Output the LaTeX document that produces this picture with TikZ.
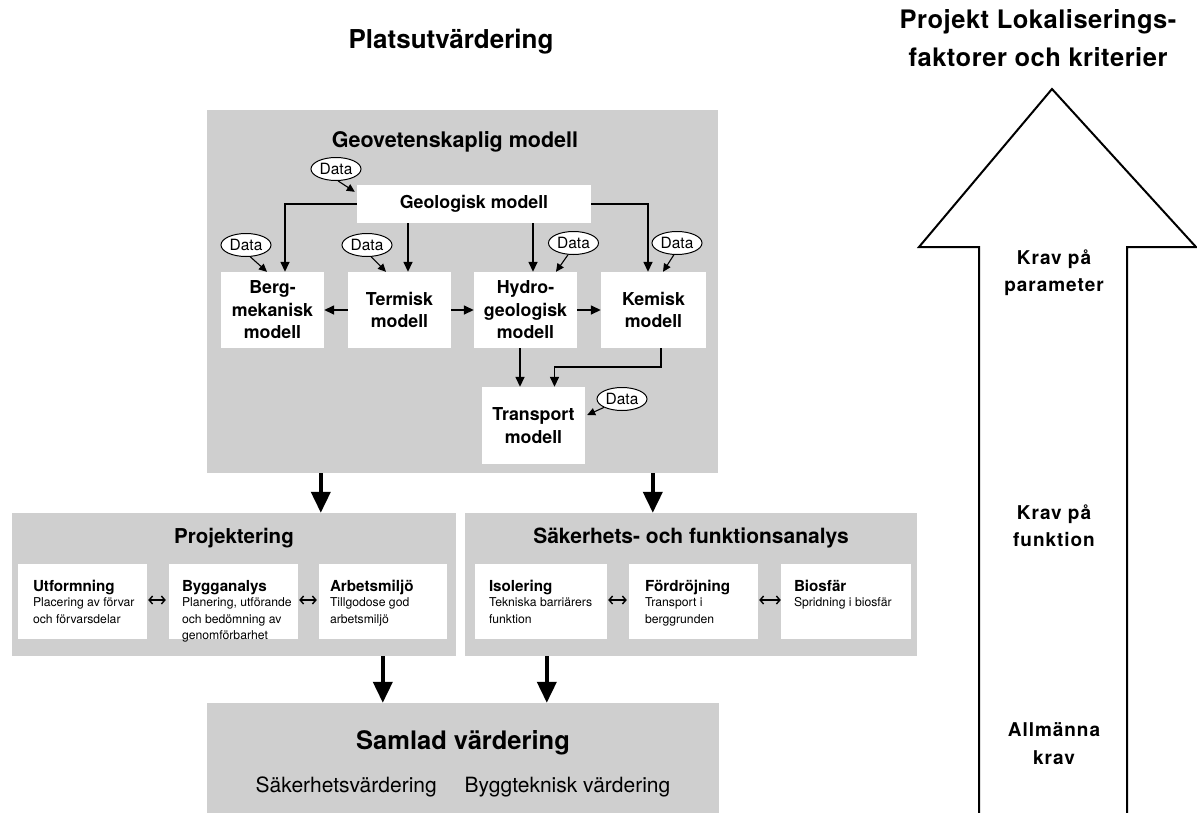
\documentclass[tikz,border=0pt]{standalone}
\usepackage{fontspec}
\setmainfont{TeX Gyre Heros}
\usetikzlibrary{arrows.meta,calc,shapes.geometric}
\definecolor{dither}{gray}{0.81}
\tikzset{
  graybox/.style={fill=dither, draw=none, inner sep=0},
  wbox/.style={fill=white, draw=none, inner sep=0, align=center, font=\fontsize{17.8}{22.5}\selectfont\bfseries},
  conn/.style={line width=1.5pt, -{Triangle[length=10pt,width=9pt]}},
  dconn/.style={line width=1.1pt, -{Triangle[length=8pt,width=7.5pt]}},
  bigarrow/.style={line width=4pt, -{Triangle[length=21pt,width=19pt]}},
  dbl/.style={line width=1.4pt, {Straight Barb[length=3.5pt,width=8pt]}-{Straight Barb[length=3.5pt,width=8pt]}},
  data/.style={ellipse, draw, line width=1pt, fill=white, minimum width=50pt, minimum height=23pt, inner sep=0, font=\fontsize{15.5}{18}\selectfont},
  ibox/.style={fill=white, draw=none, inner sep=0, minimum height=75pt},
  itext/.style={anchor=base west, inner sep=0, font=\fontsize{12.2}{16.5}\selectfont},
  ttl/.style={anchor=base, inner sep=0},
  kravtext/.style={anchor=base, inner sep=0, font=\fontsize{19}{22}\selectfont\bfseries\addfontfeatures{LetterSpace=5}},
  projtitle/.style={anchor=base, inner sep=0, font=\fontsize{25.5}{30}\selectfont\bfseries\addfontfeatures{LetterSpace=2}},
}
\newcommand{\ihead}[1]{\hbox{\bfseries\fontsize{15.2}{18}\selectfont #1}\vskip-1.5pt}
\begin{document}
\begin{tikzpicture}[x=1pt,y=-1pt]
\useasboundingbox[fill=white] (0,0) rectangle (1197,812);

% main titles
\node[ttl, font=\fontsize{26}{30}\selectfont\bfseries] (tplats) at (451,48) {Platsutvärdering};
\node[projtitle] (tproj1) at (1038,28) {Projekt Lokaliserings-};
\node[projtitle] (tproj2) at (1038,66) {faktorer och kriterier};

% gray panels
\node[graybox, minimum width=511pt, minimum height=363pt] (gbox) at (462.5,291.5) {};
\node[graybox, minimum width=444pt, minimum height=143pt] (pbox) at (234,584.5) {};
\node[graybox, minimum width=452pt, minimum height=143pt] (sbox) at (691,584.5) {};
\node[graybox, minimum width=512pt, minimum height=118pt] (vbox) at (463,762) {};

% Geovetenskaplig modell
\node[ttl, font=\fontsize{21.5}{26}\selectfont\bfseries] (tgeo) at (455,147) {Geovetenskaplig modell};
\node[wbox, minimum width=234pt, minimum height=38pt] (geol) at (474,204) {Geologisk modell};
\node[wbox, minimum width=103pt, minimum height=76pt] (berg) at (272.5,310) {Berg-\\mekanisk\\modell};
\node[wbox, minimum width=103pt, minimum height=76pt] (term) at (399.5,310) {Termisk\\modell};
\node[wbox, minimum width=103pt, minimum height=76pt] (hydro) at (525.5,310) {Hydro-\\geologisk\\modell};
\node[wbox, minimum width=105pt, minimum height=76pt] (kem) at (653.5,310) {Kemisk\\modell};
\node[wbox, minimum width=103pt, minimum height=77pt] (trans) at (533.5,425.5) {Transport\\modell};

\node[data] (d0) at (336,169) {Data};
\node[data] (d1) at (246,245) {Data};
\node[data] (d2) at (367,245) {Data};
\node[data] (d3) at (573.5,243) {Data};
\node[data] (d4) at (677,243) {Data};
\node[data] (d5) at (622,399) {Data};

% connectors
\draw[conn] (geol.west) -| ($(berg.north)+(12.5,0)$);
\coordinate (cT) at ($(term.north)+(8.5,0)$);
\draw[conn] (geol.south -| cT) -- (cT);
\coordinate (cH) at ($(hydro.north)+(7.5,0)$);
\draw[conn] (geol.south -| cH) -- (cH);
\draw[conn] (geol.east) -| ($(kem.north)+(-5.5,0)$);
\draw[conn] (term.west) -- (berg.east);
\draw[conn] (term.east) -- (hydro.west);
\draw[conn] (hydro.east) -- (kem.west);
\coordinate (cHT) at ($(hydro.south)+(-5.5,0)$);
\draw[conn] (cHT) -- (trans.north -| cHT);
\coordinate (kt) at ($(trans.north)+(21,-20)$);
\draw[conn] ($(kem.south)+(7.5,0)$) |- (kt) -- ($(trans.north)+(21,0)$);

\draw[dconn] (d0.-80) -- ($(geol.north west)+(-2,7)$);
\draw[dconn] (d1.-70) -- ($(berg.north)+(-5.5,0)$);
\draw[dconn] (d2.-70) -- ($(term.north)+(-13.5,0)$);
\draw[dconn] (d3.-115) -- ($(hydro.north)+(30.5,0)$);
\draw[dconn] (d4.-105) -- ($(kem.north)+(9.5,0)$);
\draw[dconn] (d5.-155) -- ($(trans.east)+(2,-10.5)$);

% big arrows
\draw[bigarrow] ($(gbox.south west)+(114,0)$) -- ($(pbox.north west)+(309,0)$);
\draw[bigarrow] ($(gbox.south west)+(446,0)$) -- ($(sbox.north west)+(188,0)$);
\draw[bigarrow] ($(pbox.south west)+(371,0)$) -- ($(vbox.north west)+(176,0)$);
\draw[bigarrow] ($(sbox.south west)+(82,0)$) -- ($(vbox.north west)+(340,0)$);

% Projektering
\node[ttl, font=\fontsize{20.5}{24}\selectfont\bfseries] (tpr) at (234,543) {Projektering};
\node[ibox, minimum width=129pt] (utf) at (82.5,601.5) {};
\node[ibox, minimum width=129pt] (byg) at (233.5,601.5) {};
\node[ibox, minimum width=128pt] (arb) at (383,601.5) {};
\node[itext] (utft) at ($(utf.north west)+(15,28)$) {\vtop{\ihead{Utformning}\hbox{Placering av förvar}\hbox{och förvarsdelar}}};
\node[itext] (bygt) at ($(byg.north west)+(13,28)$) {\vtop{\ihead{Bygganalys}\hbox{Planering, utförande}\hbox{och bedömning av}\hbox{genomförbarhet}}};
\node[itext] (arbt) at ($(arb.north west)+(11,28)$) {\vtop{\ihead{Arbetsmiljö}\hbox{Tillgodose god}\hbox{arbetsmiljö}}};
\draw[dbl] ($(utf.east)+(1,-1.5)$) -- ($(byg.west)+(-3,-1.5)$);
\draw[dbl] ($(byg.east)+(1,-1.5)$) -- ($(arb.west)+(-2,-1.5)$);

% Säkerhets- och funktionsanalys
\node[ttl, font=\fontsize{21}{24}\selectfont\bfseries] (tsa) at (691,543) {Säkerhets- och funktionsanalys};
\node[ibox, minimum width=132pt] (iso) at (541,601.5) {};
\node[ibox, minimum width=129pt] (ford) at (693.5,601.5) {};
\node[ibox, minimum width=130pt] (bio) at (846,601.5) {};
\node[itext] (isot) at ($(iso.north west)+(14,28)$) {\vtop{\ihead{Isolering}\hbox{Tekniska barriärers}\hbox{funktion}}};
\node[itext] (fordt) at ($(ford.north west)+(16,28)$) {\vtop{\ihead{Fördröjning}\hbox{Transport i}\hbox{berggrunden}}};
\node[itext] (biot) at ($(bio.north west)+(13,28)$) {\vtop{\ihead{Biosfär}\hbox{Spridning i biosfär}}};
\draw[dbl] ($(iso.east)+(1,-1.5)$) -- ($(ford.west)+(-2,-1.5)$);
\draw[dbl] ($(ford.east)+(1,-1.5)$) -- ($(bio.west)+(0,-1.5)$);

% Samlad värdering
\node[ttl, font=\fontsize{25.5}{30}\selectfont\bfseries] (tsam) at (463,749) {Samlad värdering};
\node[ttl, font=\fontsize{21}{25}\selectfont] (tsam2) at (463,792) {Säkerhetsvärdering\hspace{28pt}Byggteknisk värdering};

% right big arrow
\draw[line width=2pt, fill=white, line join=miter] (979,830) -- (979,247) -- (919,247) -- (1052,89) -- (1196,247) -- (1127,247) -- (1127,830);
\node[kravtext] (k1a) at (1054,264) {Krav på};
\node[kravtext] (k1b) at (1054,291) {parameter};
\node[kravtext] (k2a) at (1054,519) {Krav på};
\node[kravtext] (k2b) at (1054,546) {funktion};
\node[kravtext] (k3a) at (1054,736) {Allmänna};
\node[kravtext] (k3b) at (1054,764) {krav};
\end{tikzpicture}
\end{document}
